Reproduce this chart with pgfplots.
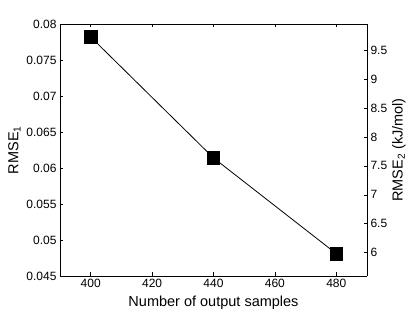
\documentclass[border=0pt]{standalone}
\usepackage{fontspec}
\setmainfont{Liberation Sans}
\usepackage{pgfplots}
\pgfplotsset{compat=1.18}
\begin{document}
\begin{tikzpicture}
\useasboundingbox (-60pt,-36pt) rectangle (355pt,276pt);
\pgfplotsset{
  every axis/.style={
    scale only axis, width=307pt, height=252pt,
    xmin=390, xmax=490,
    tick align=inside,
    scaled y ticks=false,
    /pgf/number format/assume math mode=true,
    tick label style={font=\fontsize{12}{14}\selectfont},
    label style={font=\fontsize{14.5}{17}\selectfont},
    axis line style={black, line width=0.8pt},
    major tick style={black, line width=0.6pt},
    major tick length=3.5pt,
  }
}
\begin{axis}[
  axis y line*=left,
  axis x line*=box,
  ymin=0.045, ymax=0.08,
  ytick={0.045,0.05,0.055,0.06,0.065,0.07,0.075,0.08},
  yticklabel style={/pgf/number format/fixed, /pgf/number format/precision=3},
  xtick={400,420,440,460,480},
  xlabel={Number of output samples},
  ylabel={RMSE\textsubscript{1}},
  xlabel style={yshift=-1pt},
  ylabel style={yshift=-1pt},
]
\addplot[black, line width=0.8pt, mark=square*, mark size=6.3pt, mark options={fill=black}]
  coordinates {(400,0.0782) (440,0.0614) (480,0.0481)};
\end{axis}
\begin{axis}[
  axis y line*=right,
  axis x line=none,
  ymin=5.598, ymax=9.952,
  ytick={6,6.5,7,7.5,8,8.5,9,9.5},
  yticklabel style={/pgf/number format/fixed, /pgf/number format/precision=1},
  ylabel={RMSE\textsubscript{2} (kJ/mol)},
  ylabel style={rotate=0, yshift=2pt},
]
\end{axis}
\end{tikzpicture}
\end{document}
